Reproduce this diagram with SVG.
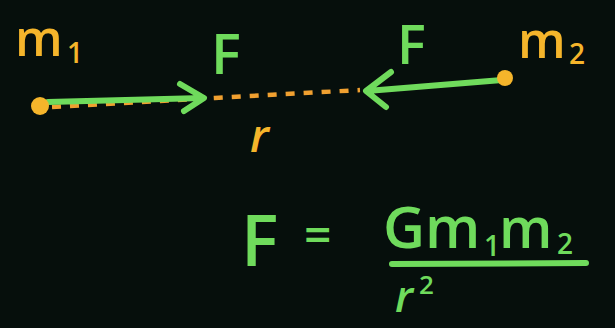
<svg xmlns="http://www.w3.org/2000/svg" width="615" height="328" viewBox="0 0 615 328">
<style>
.g{fill:#6fdb5c;font-family:"Open Sans","DejaVu Sans",sans-serif;font-weight:600;}
.o{fill:#f5b52b;font-family:"Open Sans","DejaVu Sans",sans-serif;font-weight:600;}
.arrow{stroke:#6fdb5c;stroke-width:6;stroke-linecap:round;stroke-linejoin:round;fill:none;}
.dash{stroke:#f0a030;stroke-width:4.5;stroke-dasharray:9 9;fill:none;}
</style>
<rect width="615" height="328" fill="#060f0c"/>
<g id="connectors">
<path class="dash" d="M52 107 L215 98 L360 90"/>
<path class="arrow" d="M48 102 L203 98 M180 84 L204 98 L184 111"/>
<path class="arrow" d="M502 80 L367 91 M391 72 L366 91 L386 107"/>
</g>
<g id="m1">
<circle cx="40" cy="106" r="9" fill="#f5b52b"/>
<text class="o" x="15" y="56" font-size="50">m</text>
<text class="o" x="67" y="63" font-size="28">1</text>
</g>
<g id="m2">
<circle cx="505" cy="78" r="8" fill="#f5b52b"/>
<text class="o" x="518" y="58" font-size="50">m</text>
<text class="o" x="569" y="64" font-size="28">2</text>
</g>
<text class="g" x="211" y="74" font-size="56">F</text>
<text class="g" x="397" y="64" font-size="54">F</text>
<text class="o" x="250" y="152" font-size="46" font-style="italic">r</text>
<g id="formula">
<text class="g" x="241" y="266" font-size="70">F</text>
<text class="g" x="304" y="252" font-size="48">=</text>
<text class="g" x="383" y="248" font-size="58">Gm</text>
<text class="g" x="484" y="256" font-size="28">1</text>
<text class="g" x="499" y="248" font-size="56">m</text>
<text class="g" x="557" y="254" font-size="28">2</text>
<path d="M392 264 L586 263" stroke="#6fdb5c" stroke-width="6" stroke-linecap="round"/>
<text class="g" x="395" y="312" font-size="44" font-style="italic">r</text>
<text class="g" x="419" y="294" font-size="26">2</text>
</g>
</svg>
